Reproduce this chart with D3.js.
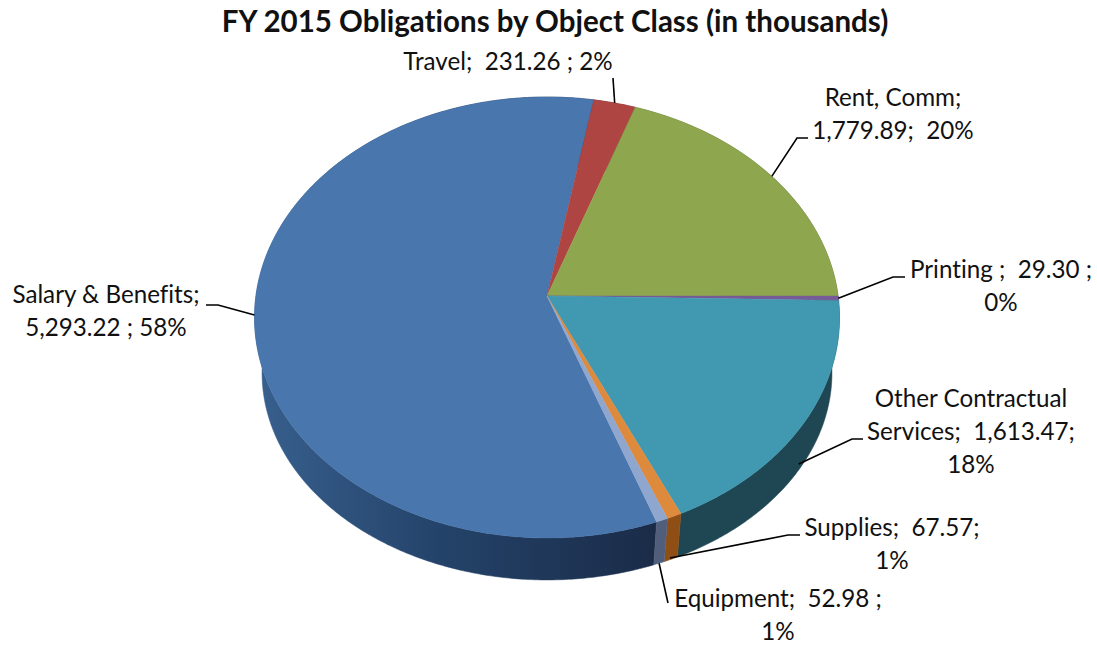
<!DOCTYPE html>
<html>
<head>
<meta charset="utf-8">
<script src="https://cdnjs.cloudflare.com/ajax/libs/d3/7.8.5/d3.min.js"></script>
<style>
  html, body { margin: 0; padding: 0; background: #fff; }
  text { font-family: Lato, sans-serif; fill: #111; font-variant-ligatures: none; }
  .title { font-size: 29.5px; font-weight: 700; }
  .label { font-size: 24.2px; }
</style>
</head>
<body>
<div id="chart"></div>
<script>
const categories = ["Salary & Benefits", "Travel", "Rent, Comm", "Printing", "Other Contractual Services", "Supplies", "Equipment"];
const amounts = [5293.22, 231.26, 1779.89, 29.30, 1613.47, 67.57, 52.98];
const topColors = ["#4876ad", "#ae4543", "#8ea74f", "#775a98", "#4099b1", "#de8a3d", "#8fa6ce"];
const sideColors = ["url(#blueSide)", "#6b2a29", "#56662f", "#49375d", "#1f4653", "#8f4f14", "#505e7c"];
const labelLines = [
  ["Salary & Benefits;", "5,293.22 ; 58%"],
  ["Travel;  231.26 ; 2%"],
  ["Rent, Comm;", "1,779.89;  20%"],
  ["Printing ;  29.30 ;", "0%"],
  ["Other Contractual", "Services;  1,613.47;", "18%"],
  ["Supplies;  67.57;", "1%"],
  ["Equipment;  52.98 ;", "1%"]
];

const width = 1097, height = 646;
const firstSlice = 160 * Math.PI / 180;
const lineGap = 33;

// perspective disc, top face and bottom face of the pie
const topDisc = {x0: 547, y0: 296, a: 291.1, b: 218.4};
const bottomDisc = {x0: 547, y0: 352.8, a: 283.6, b: 205};
const tilt = 0.0975;

const project = (disc, angle) => {
  const u = Math.sin(angle), v = -Math.cos(angle), w = 1 - tilt * v;
  return [disc.x0 + disc.a * u / w, disc.y0 + disc.b * v / w];
};

const arcPoints = (disc, start, end) => {
  const n = Math.max(2, Math.ceil((end - start) / 0.01));
  return d3.range(n + 1).map(i => project(disc, start + (end - start) * i / n));
};

const svg = d3.select("#chart").append("svg")
  .attr("width", width)
  .attr("height", height)
  .style("display", "block");

const grad = svg.append("defs").append("linearGradient")
  .attr("id", "blueSide")
  .attr("gradientUnits", "userSpaceOnUse")
  .attr("x1", 255).attr("x2", 660).attr("y1", 0).attr("y2", 0);
grad.append("stop").attr("offset", "0%").attr("stop-color", "#38608e");
grad.append("stop").attr("offset", "45%").attr("stop-color", "#24436a");
grad.append("stop").attr("offset", "100%").attr("stop-color", "#1a2b47");

const pie = d3.pie().sort(null)
  .startAngle(firstSlice)
  .endAngle(firstSlice + 2 * Math.PI);
const slices = pie(amounts);

const path = d3.line();

svg.append("g").selectAll("path")
  .data(slices)
  .enter()
  .append("path")
  .attr("d", d => path(arcPoints(topDisc, d.startAngle, d.endAngle)
    .concat(arcPoints(bottomDisc, d.startAngle, d.endAngle).reverse())) + "Z")
  .attr("fill", (d, i) => sideColors[i])
  .attr("stroke", (d, i) => sideColors[i])
  .attr("stroke-width", 0.5);

svg.append("g").selectAll("path")
  .data(slices)
  .enter()
  .append("path")
  .attr("d", d => path([[topDisc.x0, topDisc.y0]].concat(arcPoints(topDisc, d.startAngle, d.endAngle))) + "Z")
  .attr("fill", (d, i) => topColors[i])
  .attr("stroke", (d, i) => topColors[i])
  .attr("stroke-width", 0.4);

// leader bends and text spots, same order as categories
const leaderBends = [
  [[218, 305], [206, 305]],
  [[613, 78]],
  [[797, 138], [808, 138]],
  [[893, 277], [905, 277]],
  [[852, 439], [863, 439]],
  [[788, 535], [800, 535]],
  [[668, 603]]
];
const labelSpots = [[106, 303], [508, 70], [893, 106], [1001, 278], [971, 407], [892, 536], [778, 607]];

const anchorOf = (d, i) => {
  const mid = (d.startAngle + d.endAngle) / 2;
  const a = project(topDisc, mid), b = project(bottomDisc, mid);
  if (i === 4) return [a[0] + (b[0] - a[0]) * 0.85, a[1] + (b[1] - a[1]) * 0.85];
  if (i === 5) return [670, 558];
  if (i === 6) return b;
  return a;
};

svg.append("g").selectAll("path")
  .data(slices)
  .enter()
  .append("path")
  .attr("d", (d, i) => path([anchorOf(d, i)].concat(leaderBends[i])))
  .attr("fill", "none")
  .attr("stroke", "#000")
  .attr("stroke-width", 1.6);

const labels = svg.append("g").selectAll("text")
  .data(categories)
  .enter()
  .append("text")
  .attr("class", "label")
  .attr("text-anchor", "middle")
  .style("white-space", "pre")
  .attr("x", (d, i) => labelSpots[i][0])
  .attr("y", (d, i) => labelSpots[i][1]);

labels.selectAll("tspan")
  .data((d, i) => labelLines[i].map((line, k) => ({line, k, x: labelSpots[i][0]})))
  .enter()
  .append("tspan")
  .attr("x", d => d.x)
  .attr("dy", d => d.k ? lineGap : 0)
  .text(d => d.line);

svg.append("text")
  .attr("class", "title")
  .attr("text-anchor", "middle")
  .attr("x", 555)
  .attr("y", 32)
  .text("FY 2015 Obligations by Object Class (in thousands)");
</script>
</body>
</html>
